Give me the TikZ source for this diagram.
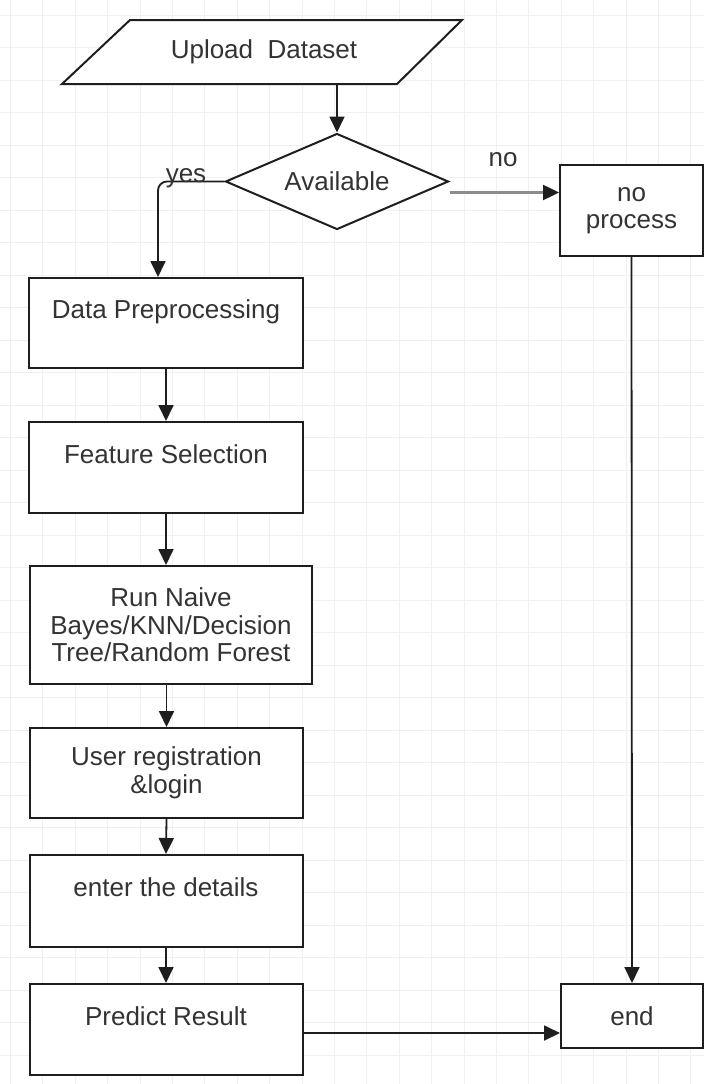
\documentclass[tikz,border=0pt]{standalone}
\usepackage{fontspec}
\setmainfont{Liberation Sans}
\usetikzlibrary{shapes.geometric,arrows.meta}
\definecolor{ink}{HTML}{1E1E1E}
\definecolor{txt}{HTML}{333333}
\tikzset{
  every node/.style={text=txt, font=\fontsize{26}{27.5}\selectfont},
  stepbox/.style={draw=ink, line width=2pt, fill=white, inner sep=0pt, align=center},
  flow/.style={draw=ink, line width=1.8pt, -{Triangle[length=16pt,width=15pt]}},
  grayflow/.style={draw=black!45, line width=2.4pt, -{Triangle[length=16pt,width=15pt,color=ink]}},
  plain/.style={draw=ink, line width=2pt},
}
\begin{document}
\begin{tikzpicture}[x=1pt,y=-1pt]
\useasboundingbox (0,0) rectangle (704,1084);
\fill[white] (0,0) rectangle (704,1084);
% faint background grid
\foreach \i in {0,...,22} {\draw[black!6, line width=1pt] (10.5+32.4*\i,0) -- (10.5+32.4*\i,1084);}
\foreach \j in {0,...,33} {\draw[black!6, line width=1pt] (0,15+32.5*\j) -- (704,15+32.5*\j);}

% input parallelogram
\draw[plain, fill=white] (130,20) -- (462,20) -- (397,84) -- (62,84) -- cycle;
\node (upload) at (264,52) {Upload~~Dataset};
\coordinate (uploadbot) at (337,84);

% decision
\node[stepbox, shape=diamond, minimum width=223pt, minimum height=96pt, aspect=2.32] (avail) at (337,181.5) {};
\node at (avail.center) {Available};

% boxes
\node[stepbox, minimum width=274pt, minimum height=90pt] (dp) at (166,323) {Data Preprocessing\\\mbox{}};
\node[stepbox, minimum width=274pt, minimum height=91pt] (fs) at (166,467.5) {Feature Selection\\\mbox{}};
\node[stepbox, minimum width=282pt, minimum height=118pt] (run) at (171,625) {Run Naive\\Bayes/KNN/Decision\\Tree/Random Forest};
\node[stepbox, minimum width=273pt, minimum height=90pt] (user) at (166.5,773) {User registration\\\&login};
\node[stepbox, minimum width=273pt, minimum height=92pt] (enter) at (166,901) {enter the details\\\mbox{}};
\node[stepbox, minimum width=273pt, minimum height=91pt] (pred) at (166,1029.5) {Predict Result\\\mbox{}};
\node[stepbox, minimum width=143pt, minimum height=91pt] (noproc) at (631.5,210.5) {no\\process};
\node[stepbox, minimum width=142pt, minimum height=64pt] (end) at (632,1016) {end};

% connectors
\draw[flow] (uploadbot) -- (avail.north);
\draw[flow, rounded corners=9pt] (avail.west) -| ([xshift=-8pt]dp.north);
\node (yes) at (186,178) {yes};
\draw[grayflow] ([yshift=-11pt]avail.east) -- ([yshift=-11pt]avail.east -| noproc.west);
\node (no) at (503,160) {no};
\draw[flow] (dp.south) -- (fs.north);
\draw[flow] (fs.south) -- (fs.south |- run.north);
\draw[flow] (user.north |- run.south) -- (user.north);
\draw[flow] (user.south) -- (enter.north);
\draw[flow] (enter.south) -- (pred.north);
\draw[flow] (noproc.south) -- (end.north);
\draw[flow] ([yshift=-3.5pt]pred.east) -- ([yshift=-3.5pt]pred.east -| end.west);
\end{tikzpicture}
\end{document}
